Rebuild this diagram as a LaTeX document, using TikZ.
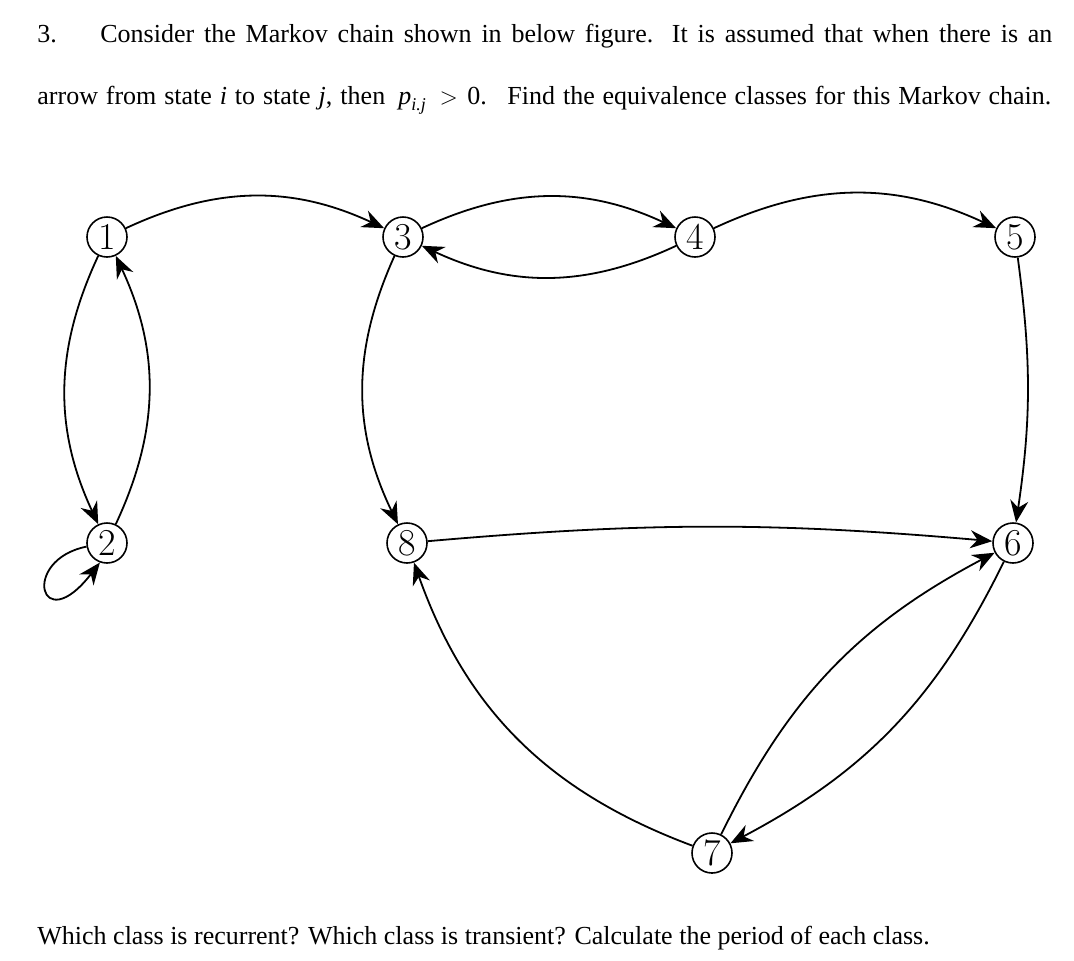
\documentclass[tikz,border=0pt]{standalone}
\usepackage{fontspec}
\newfontfamily\tnr{Liberation Serif}
\usetikzlibrary{arrows.meta}
\begin{document}
\begin{tikzpicture}[x=0.5pt,y=-0.5pt,
  st/.style={circle,draw,line width=0.8pt,minimum size=20pt,inner sep=0pt,font=\fontsize{19}{19}\selectfont},
  ar/.style={line width=0.9pt,-{Stealth[length=11pt,width=9pt]}},
  txt/.style={anchor=base west,inner sep=0pt,font=\tnr\fontsize{13}{15}\selectfont}]
\useasboundingbox (0,0) rectangle (1074,960);
\node[txt] (n3) at (37,42) {3.};
\node[txt] (l1) at (100,42) {\makebox[476pt][s]{Consider the Markov chain shown in below figure. It is assumed that when there is an}};
\node[txt] (l2) at (37,104) {\makebox[507pt][s]{arrow from state \textit{i} to state \textit{j}, then\enspace \textit{p}\raisebox{-3pt}{\fontsize{9}{9}\selectfont\textit{i.j}}\,${}>{}$0. \ Find the equivalence classes for this Markov chain.}};
\node[txt] (l3) at (37,944) {Which class is recurrent? Which class is transient? Calculate the period of each class.};
\node[st] (1) at (107,237) {1};
\node[st] (3) at (403,237) {3};
\node[st] (4) at (695,237) {4};
\node[st] (5) at (1015,237) {5};
\node[st] (2) at (107,543) {2};
\node[st] (8) at (407,543) {8};
\node[st] (6) at (1013,543) {6};
\node[st] (7) at (712,853) {7};
\draw[ar] (1) to[bend left=25] (3);
\draw[ar] (3) to[bend left=25] (4);
\draw[ar] (4) to[bend left=25] (3);
\draw[ar] (4) to[bend left=25] (5);
\draw[ar] (5) to[bend left=8] (6);
\draw[ar] (1) to[bend right=25] (2);
\draw[ar] (2) to[bend right=25] (1);
\draw[ar] (2.190) .. controls (20,560) and (40,640) .. (2.250);
\draw[ar] (3) to[bend right=25] (8);
\draw[ar] (8) to[bend left=5] (6);
\draw[ar] (7) to[bend left=25] (8);
\draw[ar] (7) to[bend left=18] (6);
\draw[ar] (6) to[bend left=18] (7);
\end{tikzpicture}
\end{document}
